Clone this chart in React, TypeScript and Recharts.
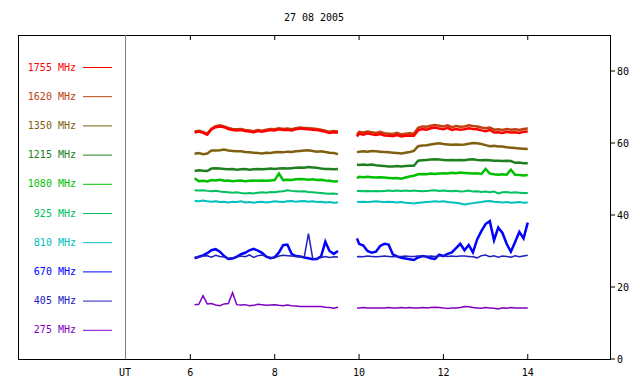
import React from "react";
import { LineChart, Line, XAxis, YAxis, Legend, Customized } from "recharts";

// UT hours; 9.7 is the data gap between the two observing runs
const TIMES = [
  6.1, 6.2, 6.3, 6.4, 6.5, 6.6, 6.7, 6.8, 6.9, 7.0,
  7.1, 7.2, 7.3, 7.4, 7.5, 7.6, 7.7, 7.8, 7.9, 8.0,
  8.1, 8.2, 8.3, 8.4, 8.5, 8.6, 8.7, 8.8, 8.9, 9.0,
  9.1, 9.2, 9.3, 9.4, 9.5,
  9.7,
  9.95, 10.0, 10.1, 10.2, 10.3, 10.4, 10.5, 10.6, 10.7, 10.8,
  10.9, 11.0, 11.1, 11.2, 11.3, 11.4, 11.5, 11.6, 11.7, 11.8,
  11.9, 12.0, 12.1, 12.2, 12.3, 12.4, 12.5, 12.6, 12.7, 12.8,
  12.9, 13.0, 13.1, 13.2, 13.3, 13.4, 13.5, 13.6, 13.7, 13.8,
  13.9, 14.0,
];

const F1755 = [
  62.9, 63.2, 62.8, 62.3, 63.8, 64.4, 64.6, 64.4, 63.9, 63.6,
  63.5, 63.6, 63.3, 63.2, 63.0, 63.3, 63.1, 63.4, 63.6, 63.5,
  63.8, 63.6, 63.7, 63.5, 63.8, 64.0, 63.9, 63.8, 63.7, 63.6,
  63.4, 63.1, 62.8, 63.0, 62.9,
  null,
  61.8, 62.6, 62.3, 62.7, 62.4, 62.2, 62.5, 62.1, 62.0, 61.9,
  62.2, 61.8, 62.0, 62.1, 62.0, 63.5, 63.9, 63.7, 64.1, 64.3,
  64.0, 63.8, 64.2, 63.6, 63.9, 63.7, 63.8, 64.1, 63.9, 63.8,
  63.5, 63.3, 63.6, 62.9, 63.0, 62.8, 63.1, 62.9, 63.0, 62.8,
  63.1, 63.2,
];

const F1620 = [
  63.2, 63.4, 63.1, 62.6, 64.0, 64.7, 64.9, 64.6, 64.2, 63.9,
  63.8, 63.9, 63.6, 63.5, 63.3, 63.6, 63.4, 63.7, 63.9, 63.8,
  64.1, 63.9, 64.0, 63.8, 64.1, 64.3, 64.2, 64.1, 64.0, 63.9,
  63.7, 63.4, 63.1, 63.3, 63.2,
  null,
  62.3, 63.1, 62.9, 63.2, 63.0, 62.8, 63.1, 62.7, 62.6, 62.5,
  62.8, 62.4, 62.6, 62.7, 62.6, 64.2, 64.6, 64.5, 64.8, 65.0,
  64.8, 64.6, 64.9, 64.4, 64.7, 64.5, 64.6, 64.9, 64.7, 64.6,
  64.3, 64.1, 64.3, 63.7, 63.8, 63.6, 63.9, 63.7, 63.8, 63.6,
  63.9, 64.0,
];

const F1350 = [
  57.0, 57.2, 56.9, 57.1, 57.9, 57.9, 58.0, 58.2, 57.9, 57.8,
  57.7, 57.7, 57.5, 57.4, 57.3, 57.2, 57.1, 57.3, 57.2, 57.4,
  57.5, 57.4, 57.6, 57.5, 57.7, 57.8, 57.9, 58.0, 57.8, 57.6,
  57.7, 57.5, 57.3, 57.2, 56.9,
  null,
  57.4, 57.6, 57.7, 57.6, 57.8, 57.7, 57.6, 57.5, 57.4, 57.3,
  57.2, 57.1, 57.3, 57.5, 57.8, 59.1, 59.3, 59.4, 59.6, 59.8,
  59.9, 59.7, 59.6, 59.5, 59.6, 59.5, 59.6, 59.8, 60.0, 59.9,
  59.7, 59.4, 59.1, 59.2, 59.0, 59.0, 58.8, 58.7, 58.6, 58.5,
  58.4, 58.3,
];

const F1215 = [
  52.2, 52.4, 52.3, 52.2, 52.9, 53.0, 52.9, 52.8, 52.7, 52.8,
  52.6, 52.7, 52.8, 52.6, 52.7, 52.8, 52.7, 52.8, 52.9, 52.8,
  52.9, 53.0, 52.9, 53.0, 53.1, 53.2, 53.1, 53.3, 53.2, 53.1,
  52.9, 52.8, 52.8, 52.7, 52.8,
  null,
  54.0, 53.9, 54.0, 53.9, 54.0, 53.8, 53.7, 53.6, 53.5, 53.5,
  53.6, 53.5, 53.6, 53.7, 53.7, 55.1, 55.2, 55.3, 55.4, 55.5,
  55.4, 55.3, 55.2, 55.3, 55.2, 55.3, 55.2, 55.4, 55.5, 55.3,
  55.2, 55.3, 55.2, 55.1, 55.1, 55.0, 55.1, 55.0, 54.5, 54.6,
  54.4, 54.4,
];

const F1080 = [
  50.2, 49.4, 49.5, 49.3, 49.7, 49.6, 49.8, 49.5, 49.6, 49.4,
  49.5, 49.6, 49.4, 49.5, 49.6, 49.5, 49.6, 49.5, 49.6, 49.7,
  51.5, 49.7, 49.8, 49.7, 49.9, 50.0, 49.9, 49.8, 49.9, 49.7,
  49.8, 49.6, 49.5, 49.3, 49.4,
  null,
  50.2, 50.6, 50.5, 50.6, 50.5, 50.4, 50.5, 50.4, 50.3, 50.2,
  50.3, 50.1, 50.4, 50.7, 50.9, 51.3, 51.4, 51.3, 51.5, 51.4,
  51.5, 51.6, 51.5, 51.7, 51.6, 51.8, 51.7, 51.6, 51.5, 51.6,
  51.4, 52.8, 51.5, 51.3, 51.2, 51.3, 51.2, 52.6, 51.2, 51.1,
  51.0, 51.1,
];

const F925 = [
  46.9, 46.8, 46.9, 46.7, 46.6, 46.7, 46.5, 46.4, 46.3, 46.2,
  46.3, 46.1, 46.0, 46.1, 46.0, 46.2, 46.3, 46.2, 46.4, 46.3,
  46.5, 46.6, 46.9, 46.7, 46.6, 46.5, 46.6, 46.4, 46.3, 46.2,
  46.1, 46.0, 45.9, 46.0, 45.8,
  null,
  46.6, 46.7, 46.6, 46.7, 46.6, 46.7, 46.6, 46.7, 46.8, 46.7,
  46.8, 46.7, 46.8, 46.7, 46.8, 46.7, 46.6, 46.7, 46.8, 46.9,
  46.7, 46.8, 46.7, 46.6, 46.7, 46.5, 46.6, 46.8, 46.5, 46.6,
  46.4, 46.5, 46.3, 46.5, 46.0, 46.3, 46.4, 46.2, 46.3, 46.2,
  46.1, 46.1,
];

const F810 = [
  43.9, 43.8, 44.0, 43.8, 43.7, 43.8, 43.6, 43.7, 43.5, 43.7,
  43.6, 43.8, 43.5, 43.6, 43.4, 43.6, 43.7, 43.5, 43.6, 43.8,
  43.7, 43.6, 43.8, 43.9, 43.7, 43.8, 43.9, 43.7, 43.8, 43.6,
  43.7, 43.5, 43.6, 43.4, 43.5,
  null,
  43.7, 43.6, 43.7, 43.6, 43.7, 43.8, 43.7, 43.6, 43.7, 43.6,
  43.5, 43.6, 43.4, 43.3, 43.2, 43.4, 43.5, 43.6, 43.7, 43.8,
  43.7, 43.8, 43.6, 43.5, 43.4, 43.2, 42.9, 43.1, 43.3, 43.5,
  43.6, 43.8, 43.9, 43.7, 43.6, 43.5, 43.6, 43.4, 43.5, 43.6,
  43.4, 43.5,
];

const F670 = [
  28.0, 28.4, 28.8, 29.4, 30.2, 30.5, 29.8, 28.6, 27.8, 27.9,
  28.4, 29.1, 29.5, 30.2, 30.6, 30.1, 29.5, 28.4, 28.0, 28.3,
  29.6, 31.6, 31.8, 29.2, 28.6, 28.5, 28.2, 28.0, 27.7, 27.8,
  28.5, 32.6, 30.0, 29.2, 30.0,
  null,
  33.5, 32.0, 31.5, 30.0, 29.5, 29.8, 31.4, 32.0, 31.8, 29.1,
  28.5, 28.1, 27.9, 27.7, 27.5, 28.2, 28.6, 28.4, 28.0, 27.8,
  29.0, 28.6, 29.2, 29.6, 30.8, 32.0, 30.2, 31.7, 29.6, 33.2,
  35.5, 37.5, 38.3, 33.0, 36.5, 35.0, 32.0, 29.8, 32.5, 35.3,
  33.5, 37.9,
];

const F405 = [
  28.2, 28.3, 28.6, 28.7, 28.3, 28.8, 28.5, 28.3, 28.0, 28.1,
  28.3, 28.6, 28.4, 28.9, 28.2, 28.7, 28.9, 28.4, 28.2, 28.1,
  28.6, 28.8, 28.7, 28.6, 28.5, 28.4, 28.3, 34.8, 28.0, 27.9,
  28.2, 28.5, 28.2, 28.4, 28.3,
  null,
  28.4, 28.5, 28.4, 28.6, 28.5, 28.4, 28.5, 28.6, 28.5, 28.4,
  28.5, 28.5, 28.6, 28.5, 28.5, 28.6, 28.6, 28.5, 28.6, 28.5,
  28.6, 28.6, 28.5, 28.6, 28.5, 28.6, 28.6, 28.5, 28.4, 28.1,
  28.7, 28.9, 28.4, 28.7, 28.3, 28.6, 28.5, 28.3, 28.7, 28.4,
  28.6, 28.8,
];

const F275 = [
  15.1, 15.2, 17.6, 15.3, 15.4, 15.0, 14.8, 15.3, 15.4, 18.4,
  15.1, 15.0, 15.1, 14.8, 14.9, 15.2, 15.1, 14.9, 15.0, 15.1,
  14.9, 14.8, 15.0, 14.8, 14.7, 14.6, 14.6, 14.6, 14.6, 14.6,
  14.6, 14.4, 14.3, 14.1, 14.4,
  null,
  14.1, 14.2, 14.3, 14.2, 14.2, 14.2, 14.2, 14.2, 14.3, 14.2,
  14.2, 14.3, 14.2, 14.3, 14.2, 14.2, 14.3, 14.2, 14.3, 14.4,
  14.3, 14.2, 14.0, 14.2, 14.2, 14.3, 14.6, 14.5, 14.3, 14.2,
  14.1, 14.3, 14.2, 14.1, 13.9, 14.2, 14.1, 14.3, 14.2, 14.2,
  14.2, 14.2,
];

const LABELS = ["1755 MHz", "1620 MHz", "1350 MHz", "1215 MHz", "1080 MHz", "925 MHz", "810 MHz", "670 MHz", "405 MHz", "275 MHz"];
const KEYS = ["f1755", "f1620", "f1350", "f1215", "f1080", "f925", "f810", "f670", "f405", "f275"];
const COLORS = ["#ff0000", "#c04010", "#806010", "#208020", "#00c000", "#00c060", "#00c0c0", "#0000ff", "#2020c0", "#8000c0"];
const WIDTHS = [2.5, 2.5, 2.5, 2.5, 2.5, 2, 2, 2.5, 1.5, 1.5];

const X_TICKS = [4.45, 6, 8, 10, 12, 14];
const Y_TICKS = [0, 20, 40, 60, 80];
const TITLE = "27 08 2005";

const VALUES = [F1755, F1620, F1350, F1215, F1080, F925, F810, F670, F405, F275];

const data = TIMES.map((t, i) => {
  const row: Record<string, number | null> = { t };
  KEYS.forEach((k, j) => {
    row[k] = VALUES[j][i];
  });
  return row;
});

// draw order: 1620 under 1755
const DRAW_ORDER = [1, 0, 2, 3, 4, 5, 6, 7, 8, 9];

const FONT = "'DejaVu Sans Mono', monospace";
const PLOT_LEFT = 125;
const PLOT_RIGHT = 610;
const PLOT_TOP = 35;
const PLOT_BOTTOM = 359;
const FRAME_LEFT = 18;

const BottomTick = (props: any) => {
  const { x, payload } = props;
  if (payload.value === X_TICKS[0]) {
    return (
      <text x={x} y={PLOT_BOTTOM + 17} textAnchor="middle" fontSize={10} fontFamily={FONT} fill="#000">
        UT
      </text>
    );
  }
  return (
    <g>
      <line x1={x} x2={x} y1={PLOT_BOTTOM} y2={PLOT_BOTTOM - 5} stroke="#000" />
      <text x={x} y={PLOT_BOTTOM + 17} textAnchor="middle" fontSize={10} fontFamily={FONT} fill="#000">
        {payload.value}
      </text>
    </g>
  );
};

const TopTick = (props: any) => {
  const { x } = props;
  return <line x1={x} x2={x} y1={PLOT_TOP} y2={PLOT_TOP + 5} stroke="#000" />;
};

const Frame = () => (
  <g>
    <rect
      x={FRAME_LEFT + 0.5}
      y={PLOT_TOP + 0.5}
      width={PLOT_RIGHT - FRAME_LEFT}
      height={PLOT_BOTTOM - PLOT_TOP}
      fill="none"
      stroke="#000"
    />
    <line x1={PLOT_LEFT + 0.5} x2={PLOT_LEFT + 0.5} y1={PLOT_TOP} y2={PLOT_BOTTOM} stroke="#808080" />
    <text x={314} y={21} textAnchor="middle" fontSize={10} fontFamily={FONT} fill="#000">
      {TITLE}
    </text>
  </g>
);

const renderLegend = () => (
  <svg width={PLOT_LEFT - FRAME_LEFT} height={PLOT_BOTTOM - PLOT_TOP}>
    {LABELS.map((label, i) => {
      const y = 32 + i * 29.2;
      return (
        <g key={label}>
          <text x={58} y={y + 3.5} textAnchor="end" fontSize={10} fontFamily={FONT} fill={COLORS[i]}>
            {label}
          </text>
          <line x1={65} x2={94} y1={y + 0.5} y2={y + 0.5} stroke={COLORS[i]} strokeWidth={1} />
        </g>
      );
    })}
  </svg>
);

export default function App() {
  return (
    <div style={{ position: "absolute", left: 0, top: 0, background: "#fff" }}>
      <LineChart
        width={640}
        height={384}
        data={data}
        margin={{ top: 30, right: 0, bottom: 0, left: PLOT_LEFT }}
        style={{ fontFamily: FONT }}
      >
        <Customized component={<Frame />} />
        <XAxis
          dataKey="t"
          type="number"
          domain={[4.45, 15.95]}
          ticks={X_TICKS}
          interval={0}
          allowDataOverflow
          height={25}
          tickSize={0}
          tickMargin={0}
          axisLine={false}
          tickLine={false}
          tick={<BottomTick />}
        />
        <XAxis
          xAxisId="top"
          orientation="top"
          dataKey="t"
          type="number"
          domain={[4.45, 15.95]}
          ticks={X_TICKS.slice(1)}
          interval={0}
          allowDataOverflow
          height={5}
          tickSize={0}
          tickMargin={0}
          axisLine={false}
          tickLine={false}
          tick={<TopTick />}
        />
        <YAxis
          orientation="right"
          type="number"
          domain={[0, 90]}
          ticks={Y_TICKS}
          interval={0}
          width={30}
          axisLine={false}
          tickSize={5}
          tickMargin={2}
          tickLine={{ stroke: "#000" }}
          tick={{ fill: "#000", fontSize: 10, fontFamily: FONT, textAnchor: "start" }}
        />
        <Legend
          layout="horizontal"
          verticalAlign="middle"
          align="center"
          content={renderLegend}
          wrapperStyle={{
            position: "absolute",
            left: FRAME_LEFT,
            top: PLOT_TOP,
            width: PLOT_LEFT - FRAME_LEFT,
            height: PLOT_BOTTOM - PLOT_TOP,
            margin: 0,
            padding: 0,
          }}
        />
        {DRAW_ORDER.map((j) => (
          <Line
            key={KEYS[j]}
            type="linear"
            dataKey={KEYS[j]}
            name={LABELS[j]}
            stroke={COLORS[j]}
            strokeWidth={WIDTHS[j]}
            dot={false}
            activeDot={false}
            isAnimationActive={false}
          />
        ))}
      </LineChart>
    </div>
  );
}
